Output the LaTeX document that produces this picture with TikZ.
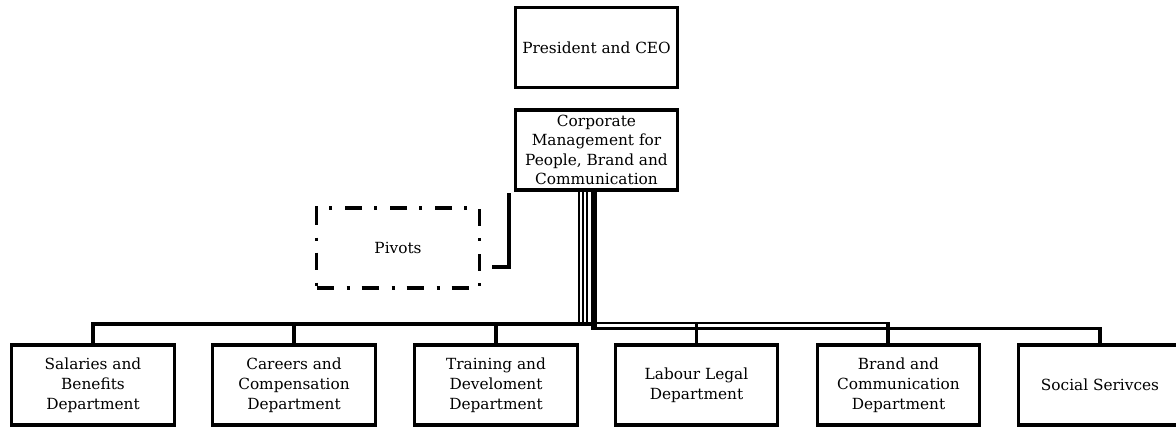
\documentclass[tikz,border=0pt]{standalone}
\usepackage{fontspec}
\setmainfont{DejaVu Serif}
\begin{document}
\begin{tikzpicture}[x=0.75pt,y=-0.75pt,
  box/.style={draw, line width=2.4pt, minimum width=122pt, minimum height=60pt, align=center, inner sep=1pt, font=\fontsize{11.5}{14.6}\selectfont},
  dbox/.style={box, font=\fontsize{11.5}{15}\selectfont},
  pivbox/.style={box, line cap=butt, dash pattern=on 12.75pt off 9.75pt on 2.25pt off 9pt},
  conn/.style={line width=2.4pt},
  thinline/.style={line width=1.2pt}]
\useasboundingbox (0,0) rectangle (1176,430);
\node[box] (ceo) at (596.5,47.5) {President and CEO};
\node[box] (corp) at (596.5,150) {Corporate\\Management for\\People, Brand and\\Communication};
\node[pivbox] (piv) at (398,248) {Pivots};
\node[dbox] (sal) at (93,385) {Salaries and\\Benefits\\Department};
\node[dbox] (car) at (294,385) {Careers and\\Compensation\\Department};
\node[dbox] (tra) at (496,385) {Training and\\Develoment\\Department};
\node[dbox] (lab) at (696.5,385) {Labour Legal\\Department};
\node[dbox] (bra) at (898.5,385) {Brand and\\Communication\\Department};
\node[dbox] (soc) at (1100,385) {Social Serivces};
% pivots connector
\coordinate (pvtop) at (509,193);
\coordinate (pvend) at (492,267);
\draw[conn] (pvtop) |- (pvend);
% bus coordinates
\coordinate (busL) at (93,324);
\coordinate (busM) at (596,324);
\coordinate (busR) at (592,328.5);
\coordinate (busT) at (595,323);
% lines from corporate box
\draw[thinline] (corp.south -| 579,0) -- (579,324);
\draw[thinline] (corp.south -| 583,0) -- (583,324);
\draw[thinline] (corp.south -| 587,0) -- (587,324);
\draw[line width=4.5pt] (corp.south -| 593.5,0) -- (593.5,330);
% main bus to the left
\draw[conn] (sal.north) |- (busM);
\draw[conn] (car.north) -- (car.north |- busL);
\draw[conn] (tra.north) -- (tra.north |- busL);
\draw[conn] (lab.north) -- (lab.north |- busL);
% right lines
\draw[thinline] (busT) -- (888,323);
\draw[conn] (bra.north -| 888,0) -- (888,322);
\draw[conn] (busR) -| (soc.north);
\end{tikzpicture}
\end{document}
